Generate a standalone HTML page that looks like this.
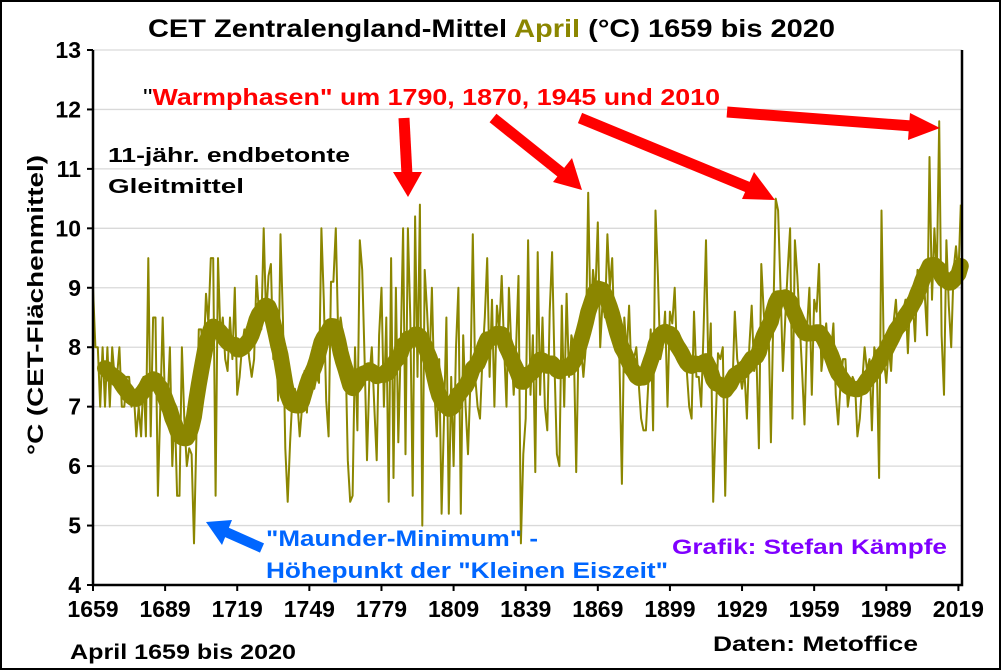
<!DOCTYPE html>
<html><head><meta charset="utf-8">
<style>
html,body{margin:0;padding:0;background:#fff;}
svg{display:block;font-family:"Liberation Sans",Arial,sans-serif;font-weight:bold;}
</style></head>
<body>
<svg id="chart" width="1001" height="670" viewBox="0 0 1001 670" xmlns="http://www.w3.org/2000/svg">
<rect x="1" y="1" width="999" height="668" fill="#fff" stroke="#000" stroke-width="2"/>
<g id="grid"></g>
<g id="series"></g>
<g id="axes"></g>
<text x="148" y="37" font-size="25" textLength="687" lengthAdjust="spacingAndGlyphs">CET Zentralengland-Mittel <tspan fill="#8B8600">April</tspan> (°C) 1659 bis 2020</text>
<text transform="translate(43,305) rotate(-90)" font-size="22" text-anchor="middle" textLength="300" lengthAdjust="spacingAndGlyphs">°C (CET-Flächenmittel)</text>
<text x="70" y="659" font-size="21" textLength="226" lengthAdjust="spacingAndGlyphs">April 1659 bis 2020</text>
<text x="713" y="651" font-size="21" textLength="205" lengthAdjust="spacingAndGlyphs">Daten: Metoffice</text>
<text x="108" y="162" font-size="20" textLength="242" lengthAdjust="spacingAndGlyphs">11-jähr. endbetonte</text>
<text x="108" y="193" font-size="20" textLength="136" lengthAdjust="spacingAndGlyphs">Gleitmittel</text>
<text x="143" y="105" font-size="23" fill="#ff0000" textLength="577" lengthAdjust="spacingAndGlyphs"><tspan fill="#000" font-weight="normal">"</tspan>Warmphasen" um 1790, 1870,  1945 und 2010</text>
<text x="266" y="546" font-size="22" fill="#0066ff" textLength="272" lengthAdjust="spacingAndGlyphs">"Maunder-Minimum" -</text>
<text x="266" y="578" font-size="22" fill="#0066ff" textLength="402" lengthAdjust="spacingAndGlyphs">Höhepunkt der "Kleinen Eiszeit"</text>
<text x="672" y="554" font-size="21" fill="#7f00ff" textLength="275" lengthAdjust="spacingAndGlyphs">Grafik: Stefan Kämpfe</text>
<g fill="#ff0000" stroke="#ff0000">
<line x1="404" y1="118" x2="407" y2="175" stroke-width="11"/>
<polygon points="393,172 422,172 408,197" stroke="none"/>
<line x1="493" y1="118" x2="563" y2="174" stroke-width="11"/>
<polygon points="553,182 572,158 582,190" stroke="none"/>
<line x1="580" y1="118" x2="750" y2="188" stroke-width="11"/>
<polygon points="742,199 754,172 775,200" stroke="none"/>
<line x1="727" y1="112" x2="912" y2="126" stroke-width="11"/>
<polygon points="910,113 908,140 940,128" stroke="none"/>
</g>
<g>
<line x1="262" y1="548" x2="226" y2="532" stroke="#0066ff" stroke-width="10"/>
<polygon points="206,522 232,520 222,545" fill="#0066ff"/>
</g>
</svg>
<script>
const years = [];
for (let y = 1659; y <= 2020; y++) years.push(y);
const april = [
9.0,8.0,8.0,7.0,8.0,7.0,8.0,7.0,8.0,7.5,
7.5,8.0,7.0,7.0,7.5,7.5,7.0,7.2,6.5,7.0,
6.5,7.5,6.5,9.5,6.5,8.5,8.5,5.5,7.0,8.5,
7.0,7.0,8.0,6.0,7.0,5.5,5.5,8.0,6.8,6.0,
6.3,6.2,4.7,6.5,8.3,8.3,7.8,8.9,8.4,9.5,
9.5,5.5,9.5,8.2,8.5,7.8,7.6,8.5,7.8,9.0,
7.2,7.5,8.0,8.3,8.2,7.8,7.5,7.8,9.2,8.6,
8.3,10.0,8.5,9.2,9.4,7.8,8.4,7.1,9.9,8.5,
6.3,5.4,6.4,7.2,7.3,7.1,6.5,7.0,7.6,6.9,
7.6,7.8,7.3,7.5,7.4,10.0,8.8,7.1,6.5,9.1,
9.1,10.0,8.2,8.5,8.2,8.0,6.1,5.4,5.5,8.0,
6.6,9.8,9.3,7.8,6.1,7.5,8.0,7.0,6.1,8.2,
9.0,7.0,8.5,5.4,9.5,5.8,9.0,6.4,8.0,10.0,
6.2,10.0,8.5,5.5,10.2,7.5,10.4,5.0,9.3,8.6,
7.7,9.0,7.3,6.5,7.8,5.2,6.8,8.5,5.2,7.5,
6.0,8.0,9.0,5.2,8.2,7.0,6.2,7.4,9.9,7.5,
7.0,6.8,7.8,8.5,9.5,7.5,8.8,7.0,8.7,8.3,
9.2,8.0,7.0,9.0,8.0,7.2,8.0,9.2,4.7,6.2,
6.8,9.8,7.2,8.2,5.9,9.6,7.2,8.5,7.0,6.6,
8.6,9.6,7.7,6.2,6.0,8.7,7.0,8.9,7.5,8.2,
8.0,5.9,8.1,8.0,7.5,8.0,10.6,8.4,9.3,8.9,
10.1,8.0,8.8,8.5,9.9,9.0,9.5,8.0,8.4,7.8,
5.7,8.5,7.9,8.7,7.5,7.8,8.0,7.4,6.8,6.6,
6.6,7.4,8.3,6.6,10.3,9.2,7.8,8.0,8.6,7.0,
8.6,8.4,9.0,7.8,8.0,8.0,7.9,7.6,7.0,6.8,
8.6,7.5,7.5,7.0,8.3,9.8,7.6,8.4,5.4,6.7,
7.9,7.8,8.0,5.5,7.4,7.2,7.3,8.6,7.8,7.6,
7.3,7.6,6.8,8.0,8.7,7.6,7.8,6.3,9.4,8.6,
8.0,8.4,6.4,8.5,10.5,10.3,9.0,7.6,8.5,9.3,
10.0,6.8,9.8,9.2,8.4,7.6,6.7,8.3,9.0,7.2,
8.8,8.6,9.4,7.6,8.0,8.4,7.8,7.9,8.4,7.2,
6.7,7.4,7.8,7.8,7.0,7.3,7.5,7.4,6.5,6.8,
7.4,8.0,7.6,7.8,6.6,8.0,7.8,5.8,10.3,7.8,
7.4,8.0,7.6,8.4,8.8,8.1,8.5,8.6,8.8,7.9,
8.9,8.8,8.1,9.3,9.2,9.2,8.9,8.2,11.2,8.8,
10.0,9.2,11.8,8.2,7.2,9.8,8.7,8.0,9.3,9.7,
9.2,10.4
];
const yTicks = [4,5,6,7,8,9,10,11,12,13];
const xTicks = [1659,1689,1719,1749,1779,1809,1839,1869,1899,1929,1959,1989,2019];

const X0 = 93, X1 = 962, Y0 = 585, Y1 = 50;
const xScale = yr => X0 + (yr - 1659) * (X1 - X0) / (2020.5 - 1659);
const yScale = v => Y0 - (v - 4) * (Y0 - Y1) / 9;
const NS = "http://www.w3.org/2000/svg";
const mk = (tag, attrs, parent) => { const e = document.createElementNS(NS, tag); for (const k in attrs) e.setAttribute(k, attrs[k]); parent.appendChild(e); return e; };

const grid = document.getElementById('grid');
const axes = document.getElementById('axes');
const series = document.getElementById('series');

yTicks.forEach(t => {
  const y = yScale(t);
  const gl = mk('line', {x1: X0, x2: X1, y1: y, y2: y, stroke: '#d9d9d9', 'stroke-width': 1.3}, grid);
  
  
  const tk = mk('line', {x1: X0 - 6, x2: X0, y1: y, y2: y, stroke: '#000', 'stroke-width': 2}, axes);
  
  
  const lb = mk('text', {x: X0 - 12, y: y + 8, 'font-size': 23, 'text-anchor': 'end'}, axes);
  lb.textContent = t;
  
  
});
xTicks.forEach(t => {
  const x = xScale(t);
  const tk = mk('line', {x1: x, x2: x, y1: Y0, y2: Y0 + 6, stroke: '#000', 'stroke-width': 2}, axes);
  
  
  const lb = mk('text', {x: x, y: Y0 + 32, 'font-size': 23, 'text-anchor': 'middle'}, axes);
  lb.textContent = t;
  
  
});
const ax = mk('path', {d: `M${X0},${Y1} V${Y0} H${X1} V${Y1}`, fill: 'none', stroke: '#000', 'stroke-width': 2.5}, axes);



let d = '';
april.forEach((v, i) => { d += (i ? 'L' : 'M') + xScale(years[i]).toFixed(1) + ',' + yScale(v).toFixed(1); });
const raw = mk('path', {d: d, fill: 'none', stroke: '#8B8600', 'stroke-width': 2, 'stroke-linejoin': 'round'}, series);



// 11-year triangular-weighted smoothing
let ds = '';
for (let i = 5; i < april.length; i++) {
  let s = 0, n = 0;
  for (let k = -7; k <= 7; k++) {
    const j = i + k;
    if (j < 0 || j >= april.length) continue;
    const w = 8 - Math.abs(k);
    s += april[j] * w; n += w;
  }
  ds += (i === 5 ? 'M' : 'L') + xScale(years[i]).toFixed(1) + ',' + yScale(s / n).toFixed(1);
}
const sm = mk('path', {d: ds, fill: 'none', stroke: '#8B8600', 'stroke-width': 16, 'stroke-linejoin': 'round', 'stroke-linecap': 'round'}, series);


</script>
</body></html>
